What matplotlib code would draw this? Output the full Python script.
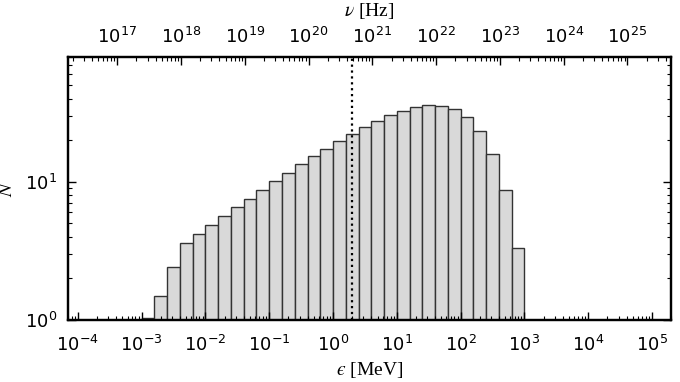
import numpy as np
import matplotlib
matplotlib.use("Agg")
from matplotlib import pyplot as plt
from matplotlib.ticker import LogLocator, NullFormatter

plt.rcParams['mathtext.fontset'] = 'stix'
plt.rcParams['axes.unicode_minus'] = False

# histogram: 5 bins per decade from 1e-3 to 1e3 MeV
log_edges = np.linspace(-3, 3, 31)
counts = [1.03, 1.50, 2.43, 3.62, 4.21, 4.86, 5.68, 6.53, 7.54, 8.75,
          10.1, 11.6, 13.4, 15.3, 17.3, 19.7, 22.2, 24.9, 27.6, 30.3,
          32.6, 34.5, 35.7, 35.5, 33.4, 29.4, 23.4, 15.9, 8.67, 3.33]
eps_line = 2.0          # MeV, dotted marker
mev_to_hz = 2.418e20    # nu = eps / h
xlim = (7e-5, 2e5)
ylim = (1, 80)

edges = 10.0 ** log_edges

fig = plt.figure(figsize=(6.8, 3.82), dpi=100)
ax = fig.add_axes([0.1, 0.1623, 0.887, 0.6885])

ax.bar(edges[:-1], counts, width=np.diff(edges), align='edge',
       color='#d9d9d9', edgecolor='#333333', linewidth=1.0)
ax.axvline(eps_line, color='black', linestyle=':', linewidth=1.6)

ax.set_xscale('log')
ax.set_yscale('log')
ax.set_xlim(*xlim)
ax.set_ylim(*ylim)

ax.set_xlabel('$\u03f5$ [MeV]', fontsize=14, family='Liberation Serif', labelpad=3)
ax.set_ylabel(r'$N$', fontsize=14, family='Liberation Serif', labelpad=6)

ax2 = ax.twiny()
ax2.set_xscale('log')
ax2.set_xlim(xlim[0] * mev_to_hz, xlim[1] * mev_to_hz)
ax2.set_xlabel(r'$\nu$ [Hz]', fontsize=14, family='Liberation Serif', labelpad=8)

for a in (ax.xaxis, ax2.xaxis):
    a.set_major_locator(LogLocator(base=10, numticks=20))
    a.set_minor_locator(LogLocator(base=10, subs=np.arange(2, 10), numticks=20))
    a.set_minor_formatter(NullFormatter())

for a in (ax, ax2):
    for s in a.spines.values():
        s.set_linewidth(1.6)
    a.tick_params(which='both', direction='in', labelsize=13)
    a.tick_params(which='major', length=6, width=1.0)
    a.tick_params(which='minor', length=3, width=0.8)

ax.tick_params(which='both', top=False, right=True)
ax2.tick_params(which='both', top=True, bottom=False)
ax.tick_params(axis='x', pad=11)
ax.tick_params(axis='y', pad=8)
ax2.tick_params(axis='x', pad=7)

fig.savefig('out.png', dpi=100)
